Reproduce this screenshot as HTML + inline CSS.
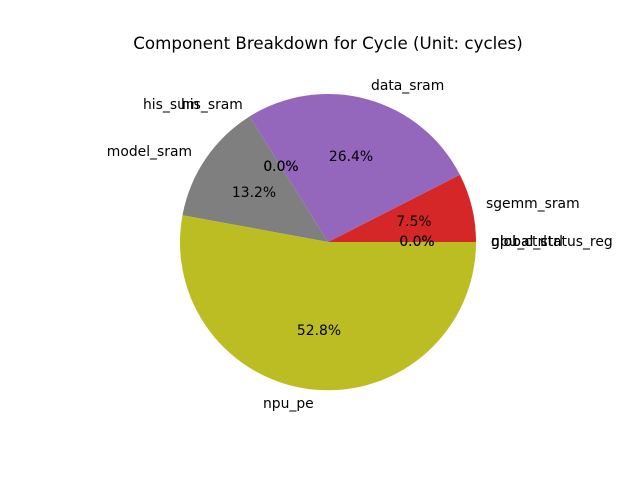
<!DOCTYPE html>
<html><head><meta charset="utf-8"><style>
html,body{margin:0;padding:0;background:#fff;}
svg{display:block;}
text{font-family:"DejaVu Sans","Liberation Sans",sans-serif;fill:#000;}
</style></head><body>
<svg width="640" height="480" viewBox="0 0 640 480" xmlns="http://www.w3.org/2000/svg">
<rect width="640" height="480" fill="#fff"/>
<text x="328" y="49" font-size="16.7" text-anchor="middle">Component Breakdown for Cycle (Unit: cycles)</text>
<path d="M328,242 L476,242 A148,148 0 0 0 459.9,174.8 Z" fill="#d62728"/>
<path d="M328,242 L459.9,174.8 A148,148 0 0 0 249.5,116.5 Z" fill="#9467bd"/>
<path d="M328,242 L249.5,116.5 A148,148 0 0 0 182.5,215.2 Z" fill="#7f7f7f"/>
<path d="M328,242 L182.5,215.2 A148,148 0 1 0 476,242 Z" fill="#bcbd22"/>
<g font-size="13.9">
<text x="371" y="90">data_sram</text>
<text x="486" y="208">sgemm_sram</text>
<text x="491" y="246">global_status_reg</text>
<text x="491" y="246">global_ctrl</text>
<text x="491" y="246">npu_ctrl</text>
<text x="143" y="109">his_sum</text>
<text x="181" y="109">his_sram</text>
<text x="192" y="156" text-anchor="end">model_sram</text>
<text x="263" y="408">npu_pe</text>
<text x="351" y="161" text-anchor="middle">26.4%</text>
<text x="414" y="226" text-anchor="middle">7.5%</text>
<text x="417" y="246" text-anchor="middle">0.0%</text>
<text x="417" y="246" text-anchor="middle">0.0%</text>
<text x="281" y="171" text-anchor="middle">0.0%</text>
<text x="281" y="171" text-anchor="middle">0.0%</text>
<text x="254" y="197" text-anchor="middle">13.2%</text>
<text x="319" y="335" text-anchor="middle">52.8%</text>
</g>
</svg>
</body></html>
